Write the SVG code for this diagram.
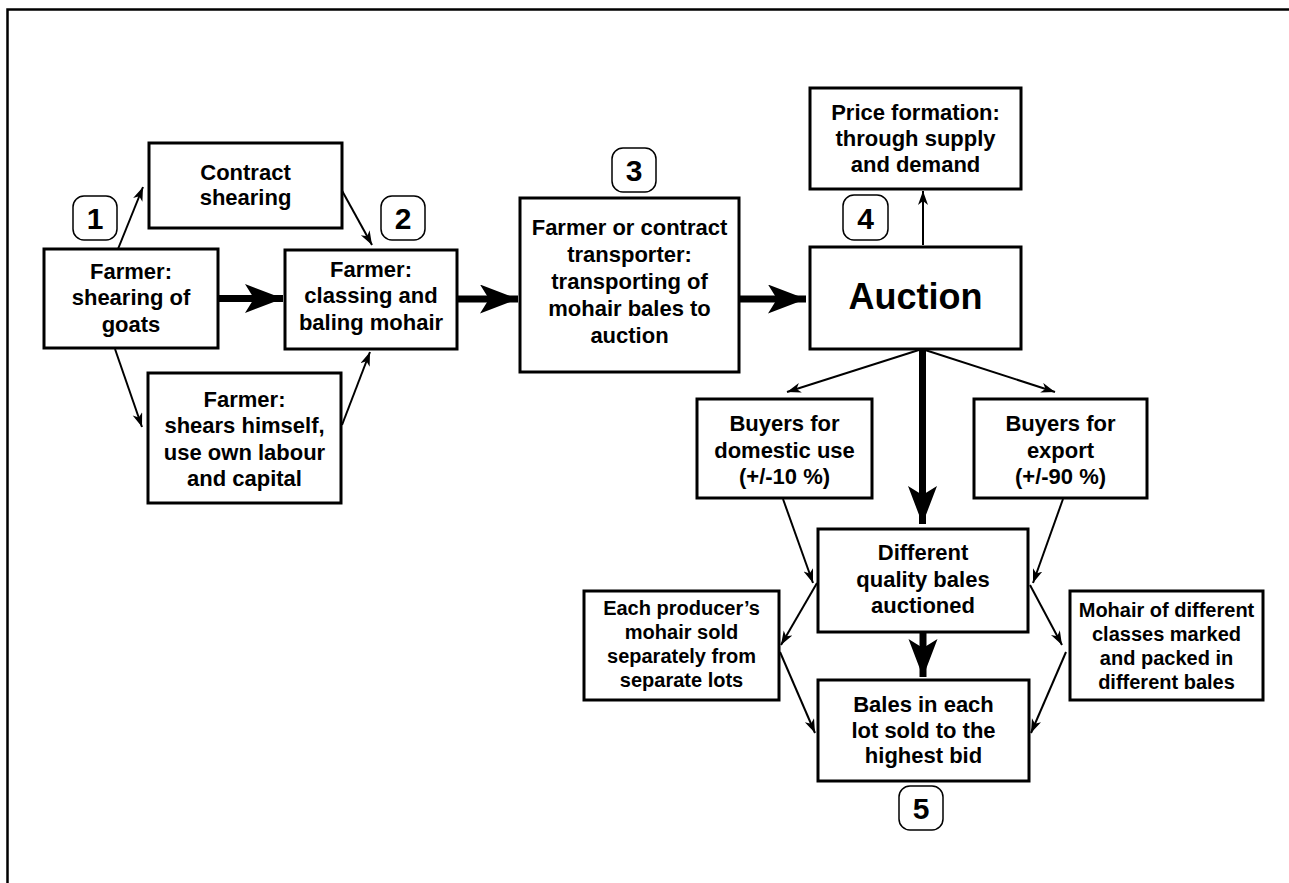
<svg xmlns="http://www.w3.org/2000/svg" width="1289" height="883" viewBox="0 0 1289 883">
<style>
.box{fill:#fff;stroke:#000;stroke-width:3}
.badge{fill:#fff;stroke:#000;stroke-width:1.5}
text{font-family:"Liberation Sans",Arial,sans-serif;font-weight:bold;fill:#000;text-anchor:middle}
.t{font-size:22px}
.s{font-size:20px}
.big{font-size:36px}
.num{font-size:30px}
.thin{stroke:#000;stroke-width:2;fill:none;marker-end:url(#ah)}
.thick{stroke:#000;stroke-width:7;fill:none;marker-end:url(#AH)}
</style>
<defs>
<marker id="ah" markerUnits="userSpaceOnUse" markerWidth="15" markerHeight="11" refX="14" refY="5" orient="auto">
<path d="M0,0 L14,5 L0,10 L4,5 Z" fill="#000"/>
</marker>
<marker id="AH" markerUnits="userSpaceOnUse" markerWidth="39" markerHeight="30" refX="38" refY="14.5" orient="auto">
<path d="M0,0 L38,14.5 L0,29 L9,14.5 Z" fill="#000"/>
</marker>
</defs>
<rect width="1289" height="883" fill="#fff"/>
<path d="M7.5,883 V9.5 H1289" fill="none" stroke="#000" stroke-width="2.5"/>

<g id="connectors">
<line class="thin" x1="118" y1="249" x2="143" y2="187"/>
<line class="thin" x1="340" y1="187" x2="372" y2="245"/>
<line class="thin" x1="115" y1="349" x2="142" y2="427"/>
<line class="thin" x1="342" y1="425" x2="370" y2="352"/>
<line class="thin" x1="923" y1="245" x2="923" y2="191"/>
<line class="thin" x1="922" y1="349" x2="787" y2="392"/>
<line class="thin" x1="922" y1="349" x2="1055" y2="392"/>
<line class="thin" x1="783" y1="499" x2="813" y2="583"/>
<line class="thin" x1="1063" y1="499" x2="1033" y2="583"/>
<line class="thin" x1="817" y1="583" x2="781" y2="645"/>
<line class="thin" x1="780" y1="652" x2="815" y2="733"/>
<line class="thin" x1="1030" y1="585" x2="1062" y2="645"/>
<line class="thin" x1="1066" y1="652" x2="1031" y2="733"/>
<line class="thick" x1="218" y1="298.5" x2="283" y2="298.5"/>
<line class="thick" x1="457" y1="299" x2="518" y2="299"/>
<line class="thick" x1="740" y1="299" x2="806" y2="299"/>
<line class="thick" x1="922.5" y1="349" x2="922.5" y2="524"/>
<line class="thick" x1="923" y1="632" x2="923" y2="677"/>
</g>

<g id="contract">
<rect class="box" x="149" y="143" width="193" height="85"/>
<text class="t" x="245.5" y="180">Contract</text>
<text class="t" x="245.5" y="205">shearing</text>
</g>
<g id="shearing">
<rect class="box" x="44" y="249" width="174" height="99"/>
<text class="t" x="131" y="279">Farmer:</text>
<text class="t" x="131" y="305">shearing of</text>
<text class="t" x="131" y="332">goats</text>
</g>
<g id="classing">
<rect class="box" x="285" y="250" width="172" height="99"/>
<text class="t" x="371" y="277">Farmer:</text>
<text class="t" x="371" y="303">classing and</text>
<text class="t" x="371" y="330">baling mohair</text>
</g>
<g id="shears">
<rect class="box" x="148" y="373" width="193" height="130"/>
<text class="t" x="244.5" y="407">Farmer:</text>
<text class="t" x="244.5" y="433">shears himself,</text>
<text class="t" x="244.5" y="460">use own labour</text>
<text class="t" x="244.5" y="486">and capital</text>
</g>
<g id="transporter">
<rect class="box" x="520" y="198" width="219" height="174"/>
<text class="t" x="629.5" y="235">Farmer or contract</text>
<text class="t" x="629.5" y="262">transporter:</text>
<text class="t" x="629.5" y="289">transporting of</text>
<text class="t" x="629.5" y="316">mohair bales to</text>
<text class="t" x="629.5" y="343">auction</text>
</g>
<g id="price">
<rect class="box" x="810" y="88" width="211" height="101"/>
<text class="t" x="915.5" y="120">Price formation:</text>
<text class="t" x="915.5" y="146">through supply</text>
<text class="t" x="915.5" y="172">and demand</text>
</g>
<g id="auction">
<rect class="box" x="810" y="247" width="211" height="102"/>
<text class="big" x="915.5" y="309">Auction</text>
</g>
<g id="domestic">
<rect class="box" x="697" y="399" width="175" height="99"/>
<text class="t" x="784.5" y="431">Buyers for</text>
<text class="t" x="784.5" y="458">domestic use</text>
<text class="t" x="784.5" y="484">(+/-10 %)</text>
</g>
<g id="export">
<rect class="box" x="974" y="399" width="173" height="99"/>
<text class="t" x="1060.5" y="431">Buyers for</text>
<text class="t" x="1060.5" y="458">export</text>
<text class="t" x="1060.5" y="484">(+/-90 %)</text>
</g>
<g id="different">
<rect class="box" x="818" y="529" width="210" height="103"/>
<text class="t" x="923" y="560">Different</text>
<text class="t" x="923" y="587">quality bales</text>
<text class="t" x="923" y="613">auctioned</text>
</g>
<g id="producer">
<rect class="box" x="584" y="591" width="195" height="109"/>
<text class="s" x="681.5" y="615">Each producer’s</text>
<text class="s" x="681.5" y="639">mohair sold</text>
<text class="s" x="681.5" y="663">separately from</text>
<text class="s" x="681.5" y="687">separate lots</text>
</g>
<g id="mohair">
<rect class="box" x="1070" y="591" width="193" height="109"/>
<text class="s" x="1166.5" y="617">Mohair of different</text>
<text class="s" x="1166.5" y="641">classes marked</text>
<text class="s" x="1166.5" y="665">and packed in</text>
<text class="s" x="1166.5" y="689">different bales</text>
</g>
<g id="bales">
<rect class="box" x="818" y="680" width="211" height="101"/>
<text class="t" x="923.5" y="712">Bales in each</text>
<text class="t" x="923.5" y="738">lot sold to the</text>
<text class="t" x="923.5" y="763">highest bid</text>
</g>

<g id="badge1"><rect class="badge" x="73" y="196" width="44" height="44" rx="11"/><text class="num" x="95" y="229">1</text></g>
<g id="badge2"><rect class="badge" x="381" y="196" width="44" height="44" rx="11"/><text class="num" x="403" y="229">2</text></g>
<g id="badge3"><rect class="badge" x="612" y="148" width="44" height="44" rx="11"/><text class="num" x="634" y="181">3</text></g>
<g id="badge4"><rect class="badge" x="843" y="195" width="45" height="45" rx="11"/><text class="num" x="865.5" y="228.5">4</text></g>
<g id="badge5"><rect class="badge" x="899" y="786" width="44" height="44" rx="11"/><text class="num" x="921" y="819">5</text></g>
</svg>
